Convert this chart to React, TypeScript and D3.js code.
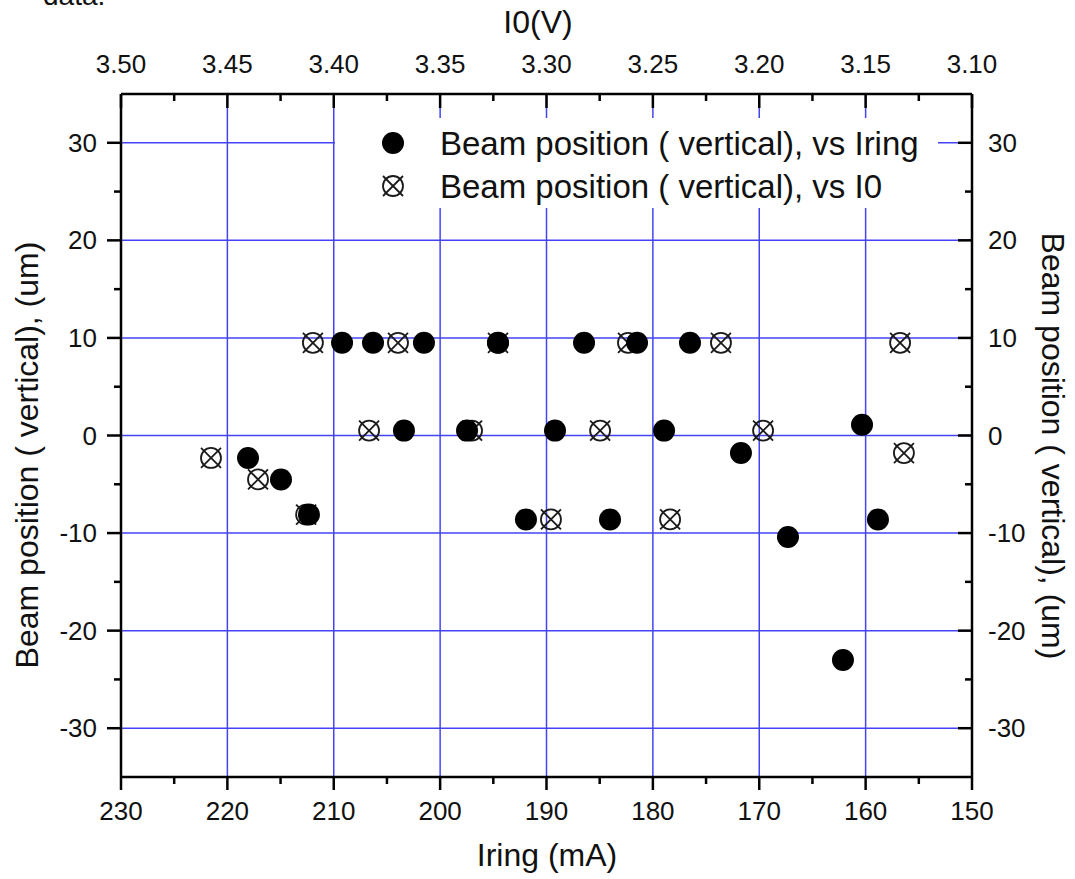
import * as d3 from "d3";

const WIDTH = 1075;
const HEIGHT = 879;
const FONT = "'Liberation Sans', Arial, sans-serif";
const GRID = "#4444f6";

// beam position vs ring current (filled circles, bottom axis)
const iringX = [
  218.06, 214.96, 212.33, 209.22, 206.31, 203.4, 201.52, 197.47, 194.56, 191.93, 189.2,
  186.47, 184.03, 181.49, 178.95, 176.51, 171.72, 167.3, 162.13, 160.34, 158.84,
];
const iringY = [
  -2.3, -4.5, -8.1, 9.5, 9.5, 0.5, 9.5, 0.5, 9.5, -8.6, 0.5, 9.5, -8.6, 9.5, 0.5, 9.5, -1.8,
  -10.4, -23.0, 1.1, -8.6,
];

// beam position vs I0 (crossed circles, top axis)
const i0X = [
  3.4577, 3.4356, 3.413, 3.4098, 3.3834, 3.3698, 3.335, 3.3228, 3.2979, 3.2748, 3.2617,
  3.2419, 3.218, 3.1982, 3.1338, 3.132,
];
const i0Y = [-2.3, -4.5, -8.1, 9.5, 0.5, 9.5, 0.5, 9.5, -8.6, 0.5, 9.5, -8.6, 9.5, 0.5, 9.5, -1.8];

const bottomTicks = [230, 220, 210, 200, 190, 180, 170, 160, 150];
const topTicks = [3.5, 3.45, 3.4, 3.35, 3.3, 3.25, 3.2, 3.15, 3.1];
const yTicks = [30, 20, 10, 0, -10, -20, -30];

const LEGEND = ["Beam position ( vertical), vs Iring", "Beam position ( vertical), vs I0"];

const PLOT = { left: 121, right: 972, top: 94, bottom: 777 };

function Crossed({ cx, cy, r = 10 }: { cx: number; cy: number; r?: number }) {
  return (
    <g stroke="#1a1a1a" strokeWidth={1.8} fill="none">
      <circle cx={cx} cy={cy} r={r} />
      <line x1={cx - r} y1={cy - r} x2={cx + r} y2={cy + r} />
      <line x1={cx - r} y1={cy + r} x2={cx + r} y2={cy - r} />
    </g>
  );
}

export default function App() {
  const xBottom = d3.scaleLinear().domain([230, 150]).range([PLOT.left, PLOT.right]);
  const xTop = d3.scaleLinear().domain([3.5, 3.1]).range([PLOT.left, PLOT.right]);
  const y = d3.scaleLinear().domain([-35, 35]).range([PLOT.bottom, PLOT.top]);

  const bottomMinor = d3.range(225, 150, -10);
  const topMinor = d3.range(3.475, 3.1, -0.05);
  const yMinor = [25, 15, 5, -5, -15, -25];

  return (
    <svg
      width={WIDTH}
      height={HEIGHT}
      style={{ position: "absolute", left: 0, top: 0, background: "#fff" }}
      fontFamily={FONT}
    >
      <rect width={WIDTH} height={HEIGHT} fill="#fff" />

      {/* cut-off text from the page above */}
      <text x={43} y={5} fontSize={28} fill="#111">
        data.
      </text>

      {/* grid */}
      {bottomTicks.slice(1, -1).map((v) => (
        <line
          key={"gx" + v}
          x1={xBottom(v)}
          x2={xBottom(v)}
          y1={PLOT.top}
          y2={PLOT.bottom}
          stroke={GRID}
          strokeWidth={1.5}
        />
      ))}
      {yTicks.map((v) => (
        <line
          key={"gy" + v}
          x1={PLOT.left}
          x2={PLOT.right}
          y1={y(v)}
          y2={y(v)}
          stroke={GRID}
          strokeWidth={1.5}
        />
      ))}

      {/* legend background */}
      <rect x={335} y={118} width={603} height={90} fill="#fff" />

      {/* axes frame */}
      <g stroke="#000" strokeWidth={2.5} fill="none">
        <line x1={PLOT.left} x2={PLOT.right} y1={PLOT.top} y2={PLOT.top} />
        <line x1={PLOT.left} x2={PLOT.right} y1={PLOT.bottom} y2={PLOT.bottom} />
        <line x1={PLOT.left} x2={PLOT.left} y1={PLOT.top} y2={PLOT.bottom} />
        <line x1={PLOT.right} x2={PLOT.right} y1={PLOT.top} y2={PLOT.bottom} />
      </g>

      <g stroke="#000" strokeWidth={2.5}>
        {/* bottom axis ticks (outward) */}
        {bottomTicks.map((v) => (
          <line key={"bt" + v} x1={xBottom(v)} x2={xBottom(v)} y1={PLOT.bottom} y2={PLOT.bottom + 13} />
        ))}
        {bottomMinor.map((v) => (
          <line key={"bm" + v} x1={xBottom(v)} x2={xBottom(v)} y1={PLOT.bottom} y2={PLOT.bottom + 7} />
        ))}
        {/* top axis ticks (inward) */}
        {topTicks.map((v) => (
          <line key={"tt" + v} x1={xTop(v)} x2={xTop(v)} y1={PLOT.top} y2={PLOT.top + 14} />
        ))}
        {topMinor.map((v) => (
          <line key={"tm" + v} x1={xTop(v)} x2={xTop(v)} y1={PLOT.top} y2={PLOT.top + 7} />
        ))}
        {/* left axis ticks (outward) */}
        {yTicks.map((v) => (
          <line key={"lt" + v} x1={PLOT.left - 14} x2={PLOT.left} y1={y(v)} y2={y(v)} />
        ))}
        {yMinor.map((v) => (
          <line key={"lm" + v} x1={PLOT.left - 7} x2={PLOT.left} y1={y(v)} y2={y(v)} />
        ))}
        {/* right axis ticks (inward) */}
        {yTicks.map((v) => (
          <line key={"rt" + v} x1={PLOT.right - 14} x2={PLOT.right} y1={y(v)} y2={y(v)} />
        ))}
        {yMinor.map((v) => (
          <line key={"rm" + v} x1={PLOT.right - 7} x2={PLOT.right} y1={y(v)} y2={y(v)} />
        ))}
      </g>

      {/* tick labels */}
      <g fontSize={26} fill="#111">
        {bottomTicks.map((v) => (
          <text key={"bl" + v} x={xBottom(v)} y={820} textAnchor="middle">
            {v}
          </text>
        ))}
        {topTicks.map((v) => (
          <text key={"tl" + v} x={xTop(v)} y={73} textAnchor="middle">
            {d3.format(".2f")(v)}
          </text>
        ))}
        {yTicks.map((v) => (
          <text key={"ll" + v} x={97} y={y(v) + 9} textAnchor="end">
            {v}
          </text>
        ))}
        {yTicks.map((v) => (
          <text key={"rl" + v} x={988} y={y(v) + 9} textAnchor="start">
            {v}
          </text>
        ))}
      </g>

      {/* axis titles */}
      <g fontSize={32} fill="#111">
        <text x={547} y={866} textAnchor="middle">
          Iring (mA)
        </text>
        <text x={538} y={33} textAnchor="middle">
          I0(V)
        </text>
        <text transform={`translate(38,455) rotate(-90)`} textAnchor="middle">
          Beam position ( vertical), (um)
        </text>
        <text transform={`translate(1042,446) rotate(90)`} textAnchor="middle">
          Beam position ( vertical), (um)
        </text>
      </g>

      {/* data: vs I0 (drawn first, underneath) */}
      {i0X.map((v, i) => (
        <Crossed key={"c" + i} cx={xTop(v)} cy={y(i0Y[i])} />
      ))}
      {/* data: vs Iring */}
      {iringX.map((v, i) => (
        <circle key={"f" + i} cx={xBottom(v)} cy={y(iringY[i])} r={11} fill="#000" />
      ))}

      {/* legend */}
      <circle cx={393} cy={143} r={11} fill="#000" />
      <Crossed cx={393} cy={186} />
      <g fontSize={33} fill="#111">
        <text x={440} y={155}>
          {LEGEND[0]}
        </text>
        <text x={440} y={198}>
          {LEGEND[1]}
        </text>
      </g>
    </svg>
  );
}
